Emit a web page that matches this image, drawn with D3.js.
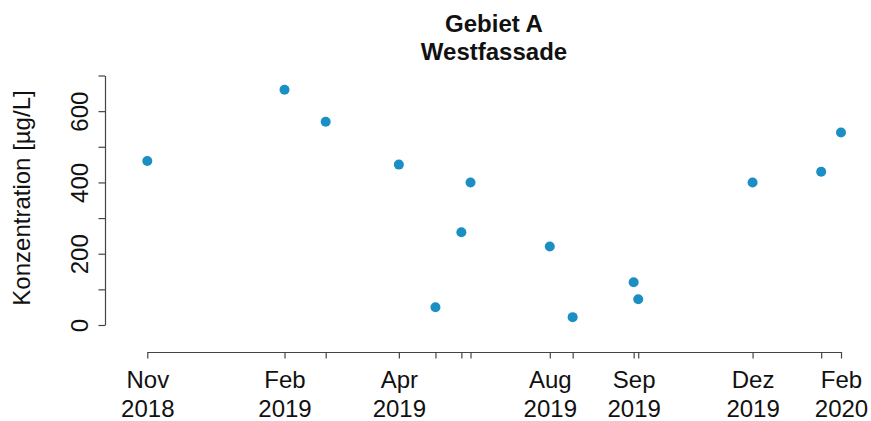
<!DOCTYPE html>
<html>
<head>
<meta charset="utf-8">
<script src="https://cdn.jsdelivr.net/npm/d3@7"></script>
<style>
  html, body { margin: 0; padding: 0; background: #fff; }
  svg { display: block; font-family: "Liberation Sans", Arial, sans-serif; }
</style>
</head>
<body>
<svg id="chart" width="871" height="421"></svg>
<script>
// Sampling dates and measured concentrations (µg/L)
const sampleDates = [
  "2018-11-12", "2019-02-10", "2019-03-09", "2019-04-26", "2019-05-20",
  "2019-06-06", "2019-06-12", "2019-08-03", "2019-08-18", "2019-09-27",
  "2019-09-30", "2019-12-14", "2020-01-28", "2020-02-10"
];
const concentrations = [460, 660, 570, 450, 50, 260, 400, 220, 22, 120, 72, 400, 430, 540];

// Labels under the date ticks (empty = tick without label)
const dateTickLabels = [
  "Nov|2018", "Feb|2019", "", "Apr|2019", "", "", "", "Aug|2019",
  "", "Sep|2019", "", "Dez|2019", "", "Feb|2020"
];
const yTickValues = [0, 100, 200, 300, 400, 500, 600, 700];
const yTickLabels = ["0", "", "200", "", "400", "", "600", ""];

const titleLines = ["Gebiet A", "Westfassade"];
const yAxisTitle = "Konzentration [µg/L]";

const parse = d3.timeParse("%Y-%m-%d");
const dates = sampleDates.map(parse);
const points = dates.map((d, i) => ({ date: d, value: concentrations[i] }));

const svg = d3.select("#chart");
const axisColor = "#444";
const fontSize = 24;

const x = d3.scaleTime()
  .domain([dates[0], dates[dates.length - 1]])
  .range([147.3, 841]);
const y = d3.scaleLinear()
  .domain([0, 700])
  .range([325, 75.5]);

// Title
svg.append("g")
  .selectAll("text")
  .data(titleLines)
  .join("text")
  .attr("x", 494)
  .attr("y", (d, i) => 31.5 + i * 28.5)
  .attr("text-anchor", "middle")
  .attr("font-size", fontSize)
  .attr("font-weight", "bold")
  .attr("fill", "#111")
  .text(d => d);

// Y axis
const yAxisG = svg.append("g")
  .attr("transform", "translate(105,0)")
  .call(d3.axisLeft(y)
    .tickValues(yTickValues)
    .tickFormat((d, i) => yTickLabels[i])
    .tickSize(6.5)
    .tickSizeOuter(0));
yAxisG.select(".domain").attr("stroke", axisColor).attr("stroke-width", 1.2);
yAxisG.selectAll(".tick line").attr("stroke", axisColor).attr("stroke-width", 1.2);
yAxisG.selectAll(".tick text")
  .attr("transform", "rotate(-90)")
  .attr("x", 0)
  .attr("y", -17)
  .attr("dy", 0)
  .attr("text-anchor", "middle")
  .attr("font-size", fontSize)
  .attr("font-family", "Liberation Sans, Arial, sans-serif")
  .attr("fill", "#111");

// X axis
const xAxisG = svg.append("g")
  .attr("transform", "translate(0,352)")
  .call(d3.axisBottom(x)
    .tickValues(dates)
    .tickFormat(() => "")
    .tickSize(6.5)
    .tickSizeOuter(0));
xAxisG.select(".domain").attr("stroke", axisColor).attr("stroke-width", 1.2);
xAxisG.selectAll(".tick line").attr("stroke", axisColor).attr("stroke-width", 1.2);
xAxisG.selectAll(".tick text").remove();
xAxisG.selectAll(".tick")
  .each(function (d, i) {
    const parts = dateTickLabels[i] ? dateTickLabels[i].split("|") : [];
    const t = d3.select(this).append("text")
      .attr("text-anchor", "middle")
      .attr("font-size", fontSize)
      .attr("font-family", "Liberation Sans, Arial, sans-serif")
      .attr("fill", "#111");
    parts.forEach((p, j) => {
      t.append("tspan").attr("x", 0).attr("y", 36 + j * 28.7).text(p);
    });
  });

// Y axis title
svg.append("text")
  .attr("transform", "translate(30,198) rotate(-90)")
  .attr("text-anchor", "middle")
  .attr("font-size", fontSize)
  .attr("fill", "#111")
  .text(yAxisTitle);

// Points
svg.append("g")
  .selectAll("circle")
  .data(points)
  .join("circle")
  .attr("cx", d => x(d.date))
  .attr("cy", d => y(d.value))
  .attr("r", 5)
  .attr("fill", "#1b8fc4");
</script>
</body>
</html>
